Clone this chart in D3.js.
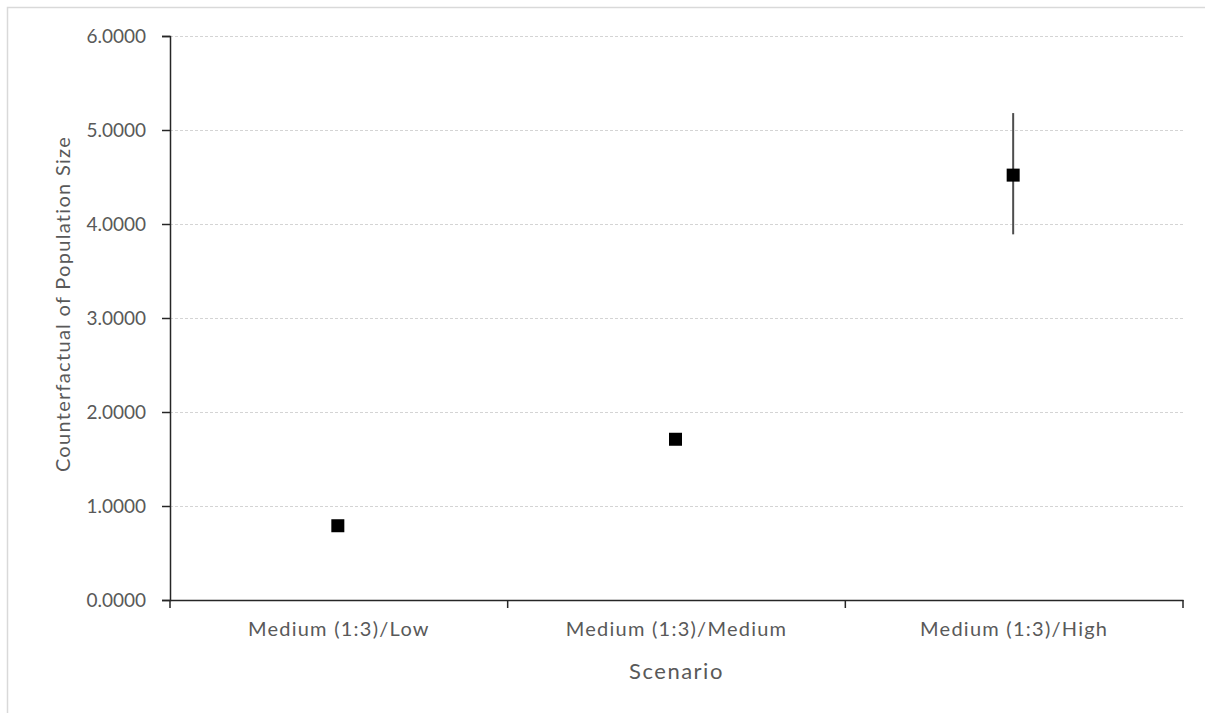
<!DOCTYPE html>
<html>
<head>
<meta charset="utf-8">
<script src="https://cdn.jsdelivr.net/npm/d3@7"></script>
<style>
  html, body { margin: 0; padding: 0; background: #fff; }
  svg { display: block; }
  text { font-family: Lato, "Open Sans", sans-serif; fill: #595959; }
</style>
</head>
<body>
<script>
const categories = ["Medium (1:3)/Low", "Medium (1:3)/Medium", "Medium (1:3)/High"];
const values = [0.79, 1.71, 4.52];
const errLow = [0.79, 1.71, 3.89];
const errHigh = [0.79, 1.71, 5.18];
const yTicks = [0, 1, 2, 3, 4, 5, 6];
const yTitle = "Counterfactual of Population Size";
const xTitle = "Scenario";

const W = 1205, H = 713;
const m = { left: 170, right: 1183, top: 36, bottom: 600 };

const svg = d3.select("body").append("svg").attr("width", W).attr("height", H);

svg.append("rect").attr("x", 7.5).attr("y", 7.5).attr("width", W).attr("height", H)
  .attr("fill", "#fff").attr("stroke", "#d9d9d9").attr("stroke-width", 1.5);

const x = d3.scaleBand().domain(categories).range([m.left, m.right]).padding(0);
const y = d3.scaleLinear().domain([0, 6]).range([m.bottom, m.top]);

// gridlines
svg.append("g").selectAll("line").data(yTicks.filter(d => d > 0)).join("line")
  .attr("x1", m.left).attr("x2", m.right)
  .attr("y1", d => y(d) + 0.5).attr("y2", d => y(d) + 0.5)
  .attr("stroke", "#d4d4d4").attr("stroke-width", 1)
  .attr("stroke-dasharray", "3,2");

// y axis
const yAxis = svg.append("g").attr("transform", `translate(${m.left},0)`)
  .call(d3.axisLeft(y).tickValues(yTicks).tickFormat(d3.format(".4f")).tickSize(8).tickPadding(16));
yAxis.select(".domain").attr("stroke", "#262626").attr("stroke-width", 1.5);
yAxis.selectAll(".tick line").attr("stroke", "#262626").attr("stroke-width", 1.5);
yAxis.selectAll(".tick text").attr("font-size", 19).attr("fill", "#595959")
  .style("font-family", "Lato, 'Open Sans', sans-serif");

// x axis
const xAxis = svg.append("g").attr("transform", `translate(0,${m.bottom})`)
  .call(d3.axisBottom(x).tickSize(0).tickPadding(22));
xAxis.select(".domain").attr("stroke", "#262626").attr("stroke-width", 1.5);
xAxis.selectAll(".tick text").attr("font-size", 20).attr("fill", "#595959")
  .attr("letter-spacing", 1.25)
  .style("font-family", "Lato, 'Open Sans', sans-serif");
// category boundary ticks
const bounds = categories.map(c => x(c)).concat([x(categories[categories.length - 1]) + x.bandwidth()]);
svg.append("g").selectAll("line").data(bounds).join("line")
  .attr("x1", d => d).attr("x2", d => d)
  .attr("y1", m.bottom).attr("y2", m.bottom + 8)
  .attr("stroke", "#262626").attr("stroke-width", 1.5);

// error bars
svg.append("g").selectAll("line").data(categories).join("line")
  .attr("x1", (c) => x(c) + x.bandwidth() / 2 - 1).attr("x2", (c) => x(c) + x.bandwidth() / 2 - 1)
  .attr("y1", (c, i) => y(errHigh[i])).attr("y2", (c, i) => y(errLow[i]))
  .attr("stroke", "#4d4d4d").attr("stroke-width", 2);

// markers
const s = 13;
svg.append("g").selectAll("rect").data(categories).join("rect")
  .attr("x", c => x(c) + x.bandwidth() / 2 - 1 - s / 2)
  .attr("y", (c, i) => y(values[i]) - s / 2)
  .attr("width", s).attr("height", s).attr("fill", "#000");

// titles
svg.append("text").attr("x", (m.left + m.right) / 2).attr("y", 679)
  .attr("text-anchor", "middle").attr("font-size", 22).attr("letter-spacing", 1.5).text(xTitle);
svg.append("text").attr("transform", `translate(70,${(m.top + m.bottom) / 2 - 14}) rotate(-90)`)
  .attr("text-anchor", "middle").attr("font-size", 20).attr("letter-spacing", 1.3).text(yTitle);
</script>
</body>
</html>
